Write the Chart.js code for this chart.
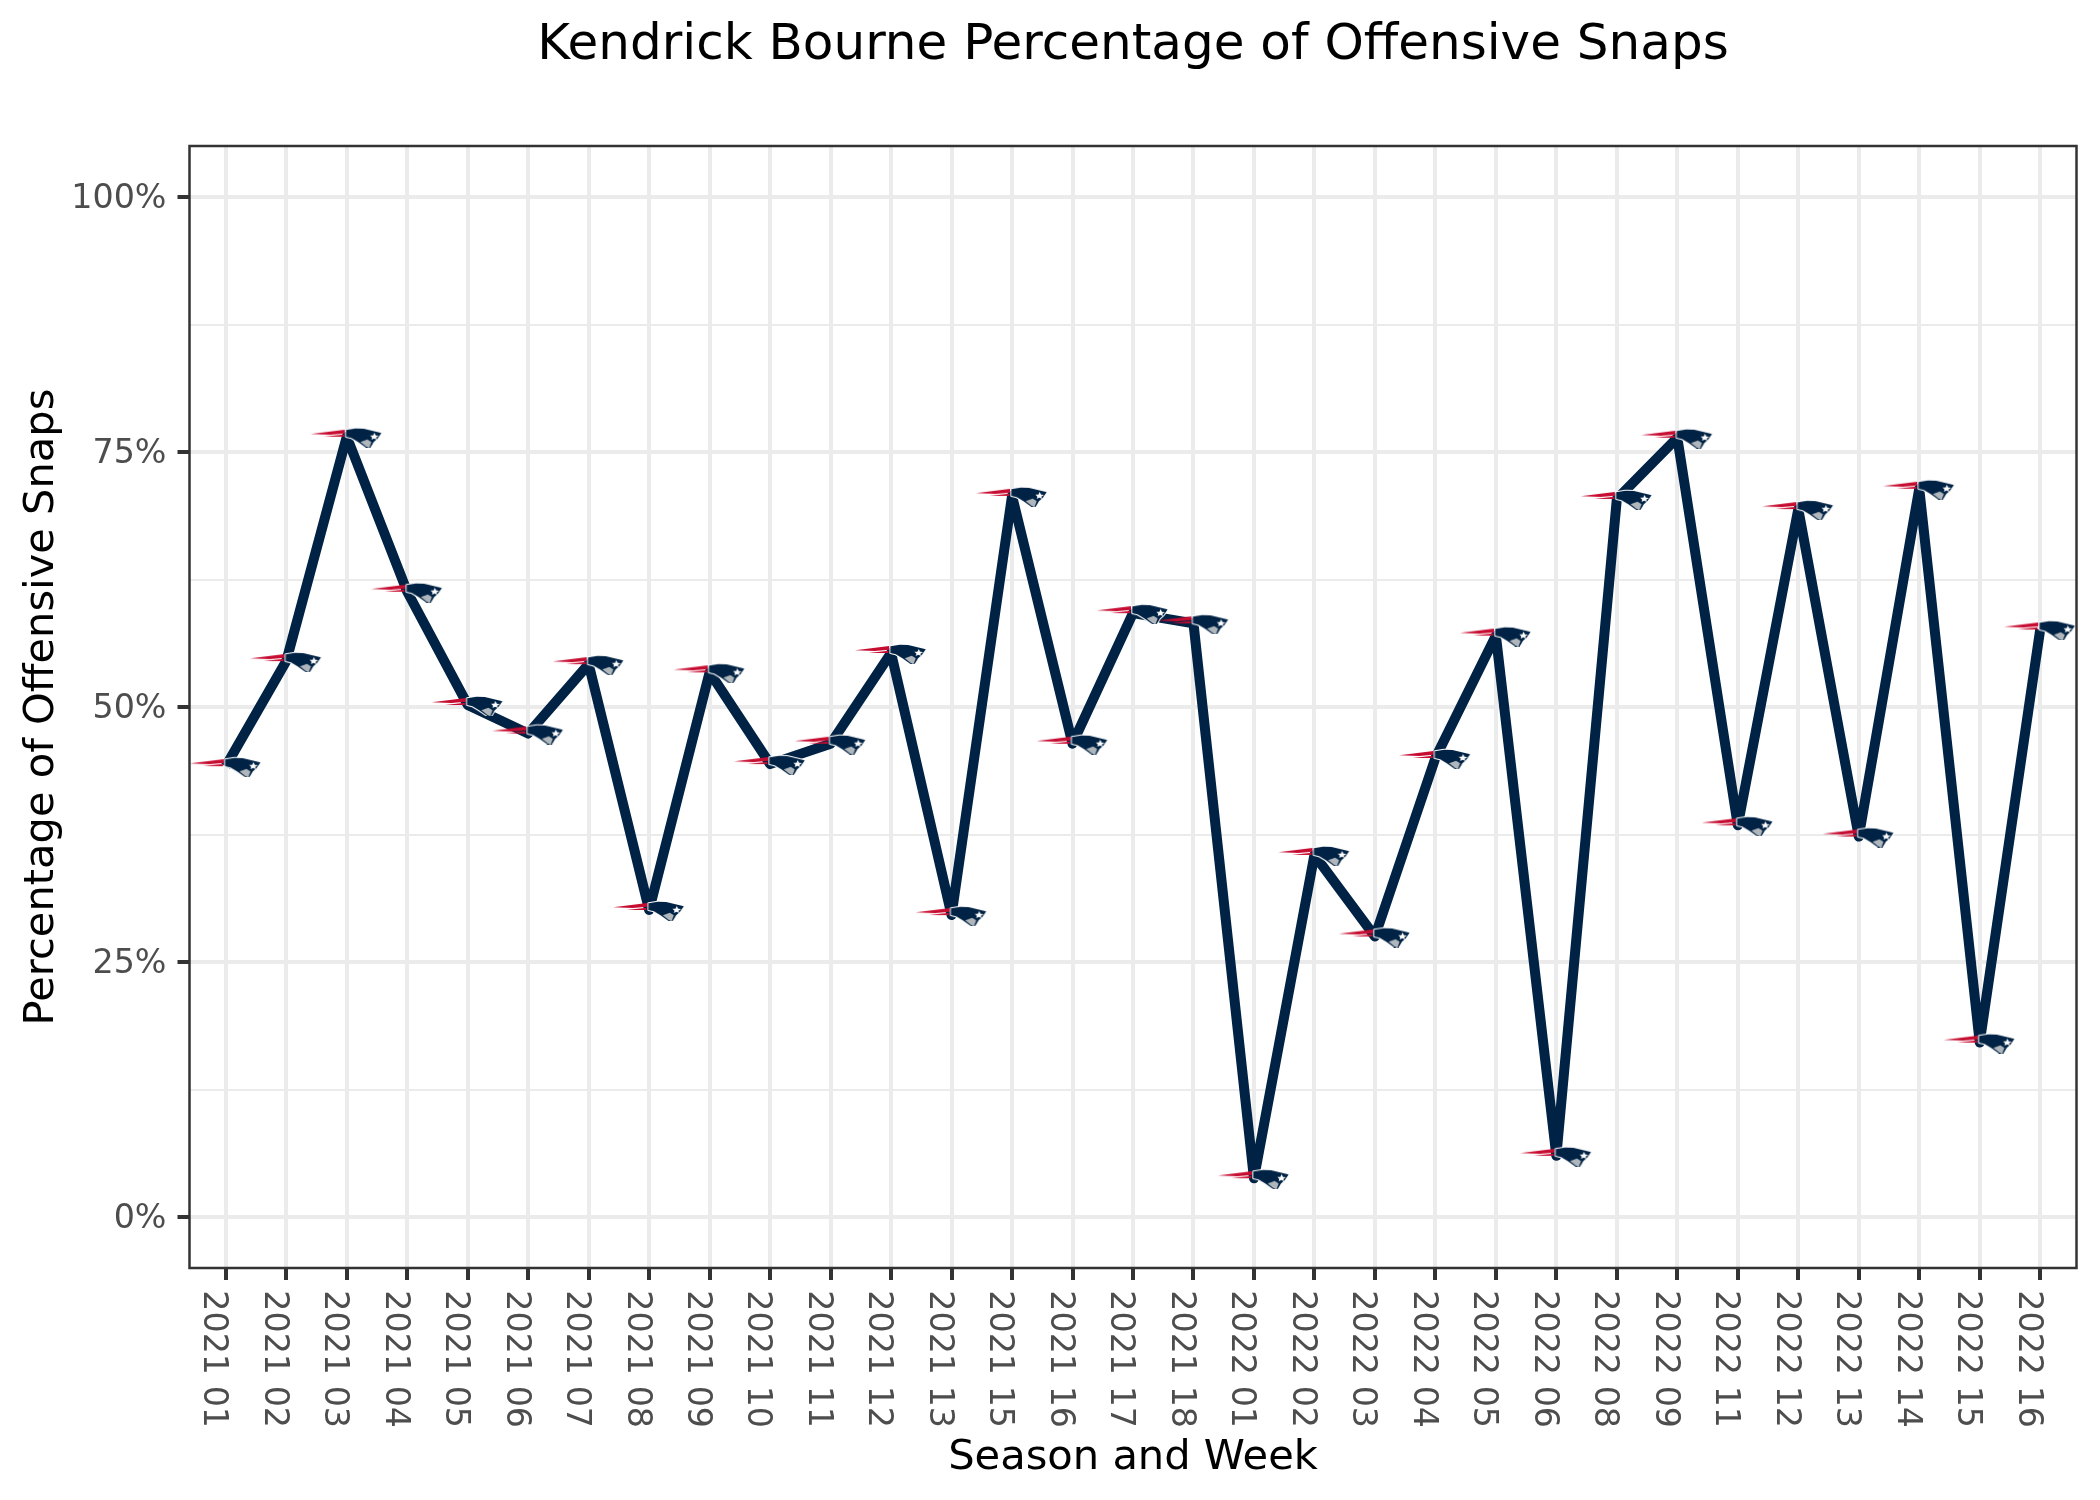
<!DOCTYPE html>
<html>
<head>
<meta charset="utf-8">
<title>Kendrick Bourne Percentage of Offensive Snaps</title>
<script src="https://cdn.jsdelivr.net/npm/chart.js@4/dist/chart.umd.min.js"></script>
<style>
    html, body { margin: 0; padding: 0; background: #fff; }
    canvas { display: block; }
</style>
</head>
<body>
<canvas id="snapChart" width="2100" height="1500"></canvas>
<script>
// Data
const weekLabels = [
    '2021 01', '2021 02', '2021 03', '2021 04', '2021 05', '2021 06', '2021 07', '2021 08',
    '2021 09', '2021 10', '2021 11', '2021 12', '2021 13', '2021 15', '2021 16', '2021 17',
    '2021 18', '2022 01', '2022 02', '2022 03', '2022 04', '2022 05', '2022 06', '2022 08',
    '2022 09', '2022 11', '2022 12', '2022 13', '2022 14', '2022 15', '2022 16'
];
const snapPct = [
    44.2, 54.5, 76.5, 61.3, 50.2, 47.4, 54.2, 30.1,
    53.4, 44.4, 46.4, 55.3, 29.6, 70.7, 46.4, 59.2,
    58.2, 3.8, 35.5, 27.5, 45.0, 57.0, 6.0, 70.4,
    76.4, 38.4, 69.4, 37.3, 71.4, 17.1, 57.6
];
const yTickValues = [0, 12.5, 25, 37.5, 50, 62.5, 75, 87.5, 100];
const yMajorTicks = [0, 25, 50, 75, 100];

const NAVY = '#002244';
const GRID = '#EBEBEB';
const DARK = '#333333';
const TICK_TEXT = '#4D4D4D';
const FONT = '"DejaVu Sans"';

// Team logo as a small canvas, used as the point style
function makeLogo() {
    const c = document.createElement('canvas');
    c.width = 72;
    c.height = 22;
    const g = c.getContext('2d');
    g.scale(1 / 3, 1 / 3);
    g.translate(-16, -11);

    function shape(points) {
        g.beginPath();
        points.forEach((p, i) => i ? g.lineTo(p[0], p[1]) : g.moveTo(p[0], p[1]));
        g.closePath();
    }
    const head = [[122, 24], [150, 19], [175, 20], [228, 33], [216, 50], [205, 60], [198, 72], [190, 82], [178, 74], [158, 60], [138, 48], [122, 44]];

    // white halo under the head
    g.fillStyle = '#fff';
    g.strokeStyle = '#fff';
    g.lineWidth = 6;
    g.lineJoin = 'round';
    shape(head);
    g.fill();
    g.stroke();

    // red streaks
    g.fillStyle = '#C60C30';
    shape([[16, 36], [118, 23], [118, 34], [75, 38]]);
    g.fill();
    shape([[56, 44], [116, 37], [116, 44]]);
    g.fill();

    g.fillStyle = NAVY;
    shape(head);
    g.fill();

    // face
    g.fillStyle = '#B0B7BC';
    shape([[165, 60], [186, 52], [198, 60], [191, 78], [180, 72]]);
    g.fill();

    // star
    g.fillStyle = '#fff';
    shape([[194, 40], [203, 40], [207, 32], [211, 40], [220, 41], [212, 46], [214, 53], [206, 49], [198, 53], [200, 46]]);
    g.fill();
    return c;
}

// Panel border goes on top of the gridlines on all four sides
const panelBorder = {
    id: 'panelBorder',
    afterDatasetsDraw(chart) {
        const { ctx, chartArea: a } = chart;
        ctx.save();
        ctx.strokeStyle = DARK;
        ctx.lineWidth = 2.5;
        ctx.strokeRect(a.left, a.top, a.right - a.left, a.bottom - a.top);
        ctx.restore();
    }
};

const isMajorY = (v) => yMajorTicks.includes(v);

new Chart(document.getElementById('snapChart').getContext('2d'), {
    type: 'line',
    data: {
        datasets: [{
            data: snapPct.map((v, i) => ({ x: i, y: v })),
            borderColor: NAVY,
            borderWidth: 10,
            borderJoinStyle: 'round',
            borderCapStyle: 'butt',
            tension: 0,
            pointStyle: makeLogo(),
            pointRadius: 10,
            clip: false
        }]
    },
    options: {
        responsive: false,
        animation: false,
        devicePixelRatio: 1,
        layout: { padding: { left: 0, right: 23.5, top: 0, bottom: 0 } },
        plugins: {
            legend: { display: false },
            tooltip: { enabled: false },
            title: {
                display: true,
                text: 'Kendrick Bourne Percentage of Offensive Snaps',
                fullSize: false,
                color: '#000',
                font: { family: FONT, size: 50, weight: 'normal', lineHeight: 1.2 },
                padding: { top: 16, bottom: 70 }
            }
        },
        scales: {
            x: {
                type: 'linear',
                min: -0.6,
                max: weekLabels.length - 0.4,
                afterBuildTicks: (scale) => { scale.ticks = weekLabels.map((_, i) => ({ value: i })); },
                afterFit: (scale) => {
                    scale.height = 232;
                    // rotated labels must not eat into the panel width
                    scale.paddingLeft = 0;
                    scale.paddingRight = 0;
                },
                border: { display: false },
                grid: { color: GRID, lineWidth: 4, tickColor: DARK, tickWidth: 4, tickLength: 12 },
                ticks: {
                    color: TICK_TEXT,
                    font: { family: FONT, size: 33.3 },
                    minRotation: -90,
                    maxRotation: -90,
                    autoSkip: false,
                    padding: 148,
                    labelOffset: -13,
                    callback: (v) => weekLabels[v]
                },
                title: {
                    display: true,
                    text: 'Season and Week',
                    color: '#000',
                    font: { family: FONT, size: 41.6, lineHeight: 1.2 },
                    padding: { top: 0, bottom: 17 }
                }
            },
            y: {
                type: 'linear',
                min: -5,
                max: 105,
                afterBuildTicks: (scale) => { scale.ticks = yTickValues.map((v) => ({ value: v })); },
                afterFit: (scale) => { scale.width = 189.5; },
                border: { display: false },
                grid: {
                    color: GRID,
                    lineWidth: (ctx) => isMajorY(ctx.tick.value) ? 4 : 2,
                    tickColor: (ctx) => isMajorY(ctx.tick.value) ? DARK : 'rgba(0,0,0,0)',
                    tickWidth: 4,
                    tickLength: 12
                },
                ticks: {
                    color: TICK_TEXT,
                    font: { family: FONT, size: 33.3 },
                    padding: 11,
                    labelOffset: 2,
                    autoSkip: false,
                    callback: (v) => isMajorY(v) ? v + '%' : ''
                },
                title: {
                    display: true,
                    text: 'Percentage of Offensive Snaps',
                    color: '#000',
                    font: { family: FONT, size: 41.6, lineHeight: 1.2 },
                    padding: { top: 17, bottom: 0 }
                }
            }
        }
    },
    plugins: [panelBorder]
});
</script>
</body>
</html>
